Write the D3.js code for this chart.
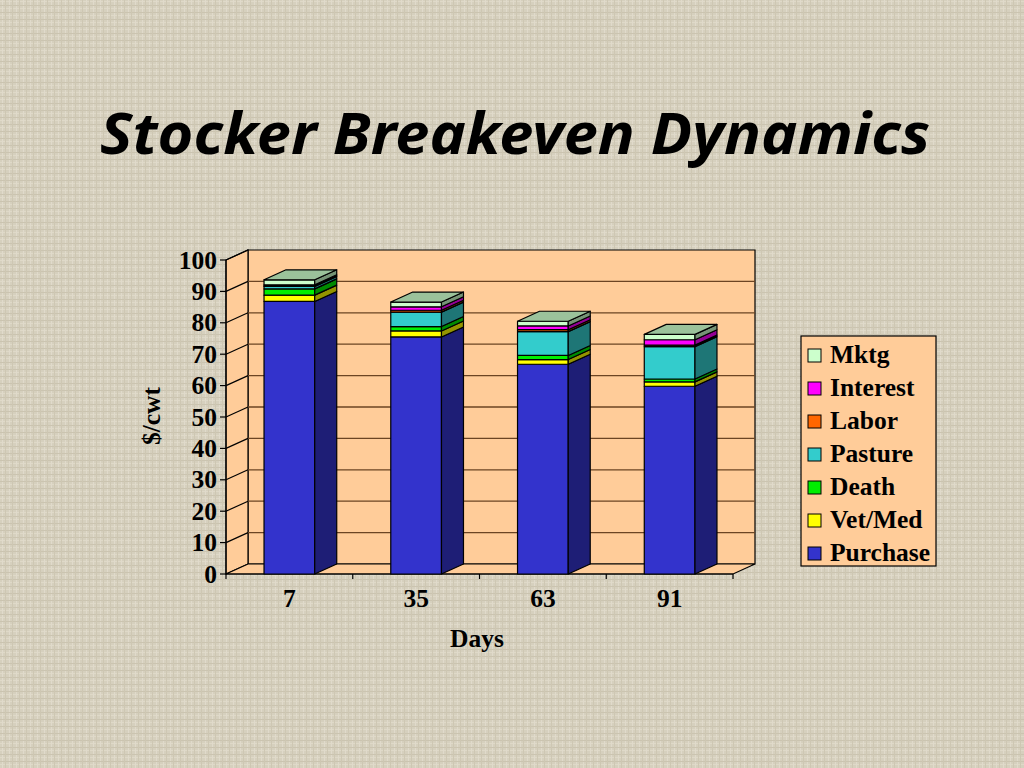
<!DOCTYPE html>
<html lang="en">
<head>
    <meta charset="UTF-8">
    <title>Stocker Breakeven Dynamics</title>
    <script src="https://d3js.org/d3.v7.min.js"></script>
    <style>
        html, body { margin: 0; padding: 0; }
        svg { display: block; }
        .serif { font-family: "Liberation Serif", "Times New Roman", serif; font-weight: bold; }
    </style>
</head>
<body>
    <svg width="1024" height="768" id="chart"></svg>

    <script>
        // Data ($/cwt)
        const days = ["7", "35", "63", "91"];
        const purchase = [86.8, 75.5, 66.8, 59.8];
        const vetMed   = [2.0, 1.9, 1.5, 1.4];
        const death    = [2.0, 1.4, 1.3, 0.9];
        const pasture  = [0.8, 4.6, 7.6, 10.3];
        const labor    = [0.2, 0.6, 0.6, 0.5];
        const interest = [0.3, 1.1, 1.2, 1.7];
        const mktg     = [1.6, 1.5, 1.5, 1.7];
        const yTicks = [0, 10, 20, 30, 40, 50, 60, 70, 80, 90, 100];

        const seriesNames = ["Purchase", "Vet/Med", "Death", "Pasture", "Labor", "Interest", "Mktg"];
        const seriesValues = [purchase, vetMed, death, pasture, labor, interest, mktg];
        const seriesColors = ["#3333cc", "#ffff00", "#00ee00", "#33cccc", "#ff6600", "#ff00ff", "#ccffcc"];

        const rows = days.map((d, i) => {
            const row = { day: d };
            seriesNames.forEach((s, k) => row[s] = seriesValues[k][i]);
            return row;
        });
        const stacked = d3.stack().keys(seriesNames)(rows);

        const svg = d3.select("#chart");

        // linen style background
        const defs = svg.append("defs");
        const pat = defs.append("pattern")
            .attr("id", "linen")
            .attr("width", 7).attr("height", 7)
            .attr("patternUnits", "userSpaceOnUse");
        pat.append("rect").attr("width", 7).attr("height", 7).attr("fill", "#d6d0be");
        pat.append("rect").attr("x", 0).attr("y", 1).attr("width", 7).attr("height", 1).attr("fill", "#dfd9c8");
        pat.append("rect").attr("x", 2).attr("y", 0).attr("width", 1).attr("height", 7).attr("fill", "#e0dacb");
        pat.append("rect").attr("x", 0).attr("y", 5).attr("width", 7).attr("height", 1).attr("fill", "#cbc4b0");
        pat.append("rect").attr("x", 5).attr("y", 0).attr("width", 1).attr("height", 7).attr("fill", "#cec7b3");
        svg.append("rect").attr("width", 1024).attr("height", 768).attr("fill", "url(#linen)");

        // title
        svg.append("text")
            .attr("x", 100).attr("y", 154)
            .attr("textLength", 830)
            .attr("lengthAdjust", "spacingAndGlyphs")
            .style("font-family", "'Noto Sans', 'DejaVu Sans', sans-serif")
            .style("font-weight", "bold")
            .style("font-style", "italic")
            .style("font-size", "58px")
            .attr("fill", "#000")
            .text("Stocker Breakeven Dynamics");

        // 3D plot geometry
        const dx = 22, dy = -10;
        const x = d3.scaleBand().domain(days).range([226, 733]).padding(0);
        const y = d3.scaleLinear().domain([0, 100]).range([574, 260]);
        const barW = x.bandwidth() * 0.4;
        const wallFill = "#ffcc99";
        const gridColor = "#6b4423";
        const fontSize = "25.5px";

        const x0 = x.range()[0], x1 = x.range()[1];
        const pts = p => p.map(d => d.join(",")).join(" ");

        // back wall
        svg.append("polygon")
            .attr("points", pts([[x0 + dx, y(100) + dy], [x1 + dx, y(100) + dy], [x1 + dx, y(0) + dy], [x0 + dx, y(0) + dy]]))
            .attr("fill", wallFill).attr("stroke", "#000").attr("stroke-width", 1.2);
        // left wall
        svg.append("polygon")
            .attr("points", pts([[x0, y(100)], [x0 + dx, y(100) + dy], [x0 + dx, y(0) + dy], [x0, y(0)]]))
            .attr("fill", wallFill).attr("stroke", "#000").attr("stroke-width", 1.2);
        // floor
        svg.append("polygon")
            .attr("points", pts([[x0, y(0)], [x1, y(0)], [x1 + dx, y(0) + dy], [x0 + dx, y(0) + dy]]))
            .attr("fill", wallFill).attr("stroke", "#000").attr("stroke-width", 1.2);

        // gridlines
        const grid = svg.append("g").attr("stroke", gridColor).attr("stroke-width", 1.3);
        yTicks.filter(t => t > 0 && t < 100).forEach(t => {
            grid.append("line")
                .attr("x1", x0 + dx).attr("x2", x1 + dx)
                .attr("y1", y(t) + dy).attr("y2", y(t) + dy);
        });
        yTicks.filter(t => t > 0).forEach(t => {
            svg.append("line")
                .attr("x1", x0).attr("y1", y(t))
                .attr("x2", x0 + dx).attr("y2", y(t) + dy)
                .attr("stroke", "#000").attr("stroke-width", 1.2);
        });

        // y axis
        const yAxis = svg.append("g");
        yAxis.append("line")
            .attr("x1", x0).attr("x2", x0)
            .attr("y1", y(0)).attr("y2", y(100))
            .attr("stroke", "#000").attr("stroke-width", 1.2);
        yTicks.forEach(t => {
            yAxis.append("line")
                .attr("x1", x0 - 6).attr("x2", x0)
                .attr("y1", y(t)).attr("y2", y(t))
                .attr("stroke", "#000").attr("stroke-width", 1.2);
            yAxis.append("text")
                .attr("class", "serif")
                .attr("x", x0 - 9).attr("y", y(t) + 8.5)
                .attr("text-anchor", "end")
                .style("font-size", fontSize)
                .text(t);
        });

        // x axis ticks and labels
        const xAxis = svg.append("g");
        xAxis.append("line")
            .attr("x1", x0).attr("x2", x1)
            .attr("y1", y(0)).attr("y2", y(0))
            .attr("stroke", "#000").attr("stroke-width", 1.2);
        days.concat([null]).forEach(d => {
            const tx = d === null ? x1 : x(d);
            xAxis.append("line")
                .attr("x1", tx).attr("x2", tx)
                .attr("y1", y(0)).attr("y2", y(0) + 5)
                .attr("stroke", "#000").attr("stroke-width", 1.2);
        });
        days.forEach(d => {
            xAxis.append("text")
                .attr("class", "serif")
                .attr("x", x(d) + x.bandwidth() / 2)
                .attr("y", 607)
                .attr("text-anchor", "middle")
                .style("font-size", fontSize)
                .text(d);
        });

        // axis titles
        svg.append("text")
            .attr("class", "serif")
            .attr("x", 477).attr("y", 647)
            .attr("text-anchor", "middle")
            .style("font-size", fontSize)
            .text("Days");
        svg.append("text")
            .attr("class", "serif")
            .attr("transform", "translate(160,416) rotate(-90)")
            .attr("text-anchor", "middle")
            .style("font-size", fontSize)
            .text("$/cwt");

        // shading helper
        function shade(c, f) {
            const col = d3.rgb(c);
            return d3.rgb(col.r * f, col.g * f, col.b * f).toString();
        }

        // bars
        const bars = svg.append("g").attr("stroke", "#000").attr("stroke-width", 1.2).attr("stroke-linejoin", "round");
        days.forEach((d, i) => {
            const bx = x(d) + (x.bandwidth() - barW) / 2;
            stacked.forEach((layer, k) => {
                const v0 = layer[i][0], v1 = layer[i][1];
                const col = seriesColors[k];
                // front
                bars.append("rect")
                    .attr("x", bx).attr("y", y(v1))
                    .attr("width", barW).attr("height", y(v0) - y(v1))
                    .attr("fill", col);
                // side
                bars.append("polygon")
                    .attr("points", pts([
                        [bx + barW, y(v1)], [bx + barW + dx, y(v1) + dy],
                        [bx + barW + dx, y(v0) + dy], [bx + barW, y(v0)]
                    ]))
                    .attr("fill", shade(col, 0.58));
            });
            // top of the stack
            const top = stacked[stacked.length - 1][i][1];
            bars.append("polygon")
                .attr("points", pts([
                    [bx, y(top)], [bx + barW, y(top)],
                    [bx + barW + dx, y(top) + dy], [bx + dx, y(top) + dy]
                ]))
                .attr("fill", shade(seriesColors[seriesColors.length - 1], 0.76));
        });

        // legend
        const legend = svg.append("g");
        legend.append("rect")
            .attr("x", 801).attr("y", 336)
            .attr("width", 135).attr("height", 230)
            .attr("fill", wallFill).attr("stroke", "#000").attr("stroke-width", 1.2);
        const legendOrder = d3.range(seriesNames.length).reverse();
        legendOrder.forEach((k, j) => {
            const by = 363 + j * 33;
            legend.append("rect")
                .attr("x", 808).attr("y", by - 14)
                .attr("width", 13).attr("height", 13)
                .attr("fill", seriesColors[k])
                .attr("stroke", "#000").attr("stroke-width", 1);
            legend.append("text")
                .attr("class", "serif")
                .attr("x", 830).attr("y", by)
                .style("font-size", fontSize)
                .text(seriesNames[k]);
        });
    </script>
</body>
</html>
